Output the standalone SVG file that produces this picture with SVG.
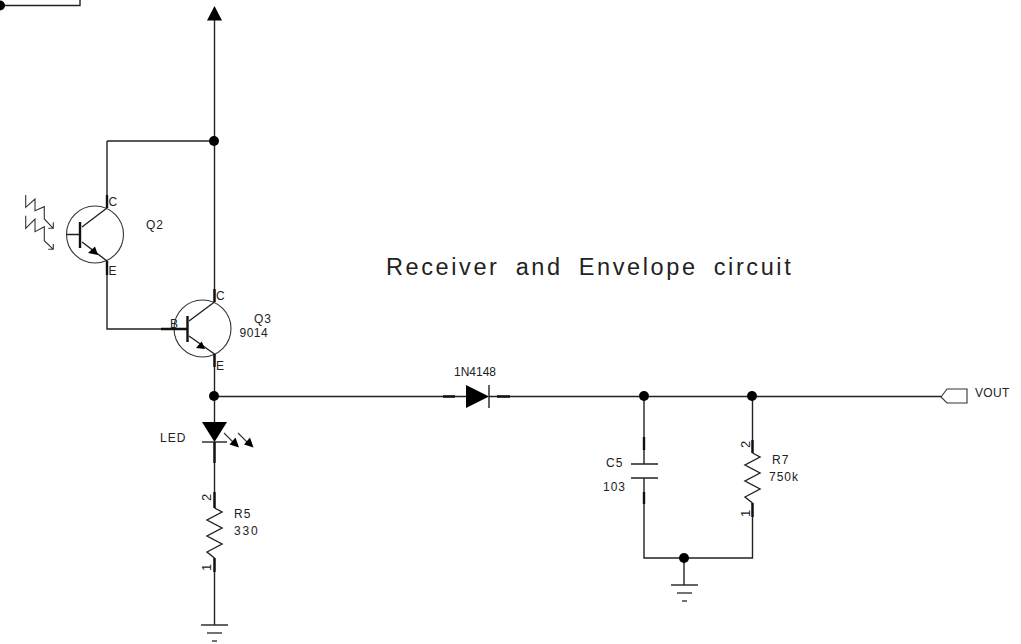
<svg xmlns="http://www.w3.org/2000/svg" width="1021" height="644" viewBox="0 0 1021 644">
<style>
.w{fill:none;stroke:#222;stroke-width:1.4;stroke-linejoin:miter}
.t{fill:none;stroke:#111;stroke-width:2.4}
.g{fill:none;stroke:#444;stroke-width:1.5}
.f{fill:#000;stroke:none}
.s{fill:none;stroke:#333;stroke-width:1.1}
text{font-family:"Liberation Sans",Arial,sans-serif;font-size:12px;fill:#222}
.l{letter-spacing:1px}
.r{font-size:13px}
</style>
<defs>
<circle id="dot" r="5" class="f"/>
<g id="gnd"><path class="w" d="M-13.500 0H13.500"/><path class="g" d="M-7.500 8H7.500M-2.500 16H2.500"/></g>
</defs>
<rect width="1021" height="644" fill="#fff"/>
<g id="connectors">
<path class="w" d="M0 5.500H80V0"/>
<path class="w" d="M214.500 15V302"/>
<path class="w" d="M107 141H214.500"/>
<path class="w" d="M107 141V208"/>
<path class="w" d="M107 261V329H187"/>
<path class="w" d="M214.500 354V422"/>
<path class="w" d="M214.500 396.500H466"/>
<path class="w" d="M489 396.500H941"/>
<path class="w" d="M214.500 442V508"/>
<path class="w" d="M214.500 558V625"/>
<path class="w" d="M644 396V464"/>
<path class="w" d="M644 478V558H752.500V503"/>
<path class="w" d="M752.500 396V453"/>
<path class="w" d="M684 558V585"/>
<use href="#dot" x="0" y="5.500"/>
<use href="#dot" x="214" y="141"/>
<use href="#dot" x="214" y="396"/>
<use href="#dot" x="644" y="396"/>
<use href="#dot" x="752" y="396"/>
<use href="#dot" x="684" y="558"/>
</g>
<g id="vcc-arrow"><path class="f" d="M214.500 6L222 20.500H207Z"/></g>
<g id="Q2">
<circle cx="95" cy="234.500" r="28.500" class="s"/>
<path class="w" d="M67 234.500H80M82 227L107 208M82 242L107 261"/>
<path class="t" d="M80 222V248M107 195V208M107 261V275"/>
<path class="f" d="M98 255L88 253L95 246.500Z"/>
<path class="s" d="M25.700 195V207.300L35 199V210.700L44.300 206.700V219L53.300 228.300M48.300 228.300H53.300V222.300M25.700 215.700V228.300L35 219V231.700L44.300 226.700V240.700L53.300 249.300M48.300 249.300H53.300V244"/>
<text x="108.500" y="206">C</text>
<text x="108.500" y="275">E</text>
<text x="146" y="229" class="l">Q2</text>
</g>
<g id="Q3">
<circle cx="202.500" cy="328.500" r="28.500" class="s"/>
<path class="w" d="M189 321L214.500 302M189 336L214.500 354"/>
<path class="t" d="M187.500 316V342M161 329H187M214.500 289V302M214.500 354V367"/>
<path class="f" d="M205 349L196 348L201.700 341.500Z"/>
<text x="216" y="300">C</text>
<text x="216" y="370">E</text>
<text x="170" y="327.500">B</text>
<text x="254" y="323" class="l">Q3</text>
<text x="239.500" y="337" style="letter-spacing:.5px">9014</text>
</g>
<g id="LED">
<path class="f" d="M202 422H227L214.500 442Z"/>
<path class="w" d="M202 442H227"/>
<path class="t" d="M214.500 442V463"/>
<path class="s" d="M224 433L236 445M238 433L250 445"/>
<path class="f" d="M239 447.500L229.500 444.500L235.500 437.500ZM253.500 447.500L244 444.500L250 437.500Z"/>
<text x="160" y="442" class="l">LED</text>
</g>
<g id="R5">
<path class="w" d="M214.500 508L222 512L207 520L222 528L207 536L222 544L207 552L214.500 558"/>
<path class="t" d="M214.500 492V508M214.500 558V572"/>
<text transform="translate(211 501) rotate(-90)" class="r">2</text>
<text transform="translate(211 571) rotate(-90)" class="r">1</text>
<text x="234" y="518" class="l">R5</text>
<text x="234" y="535" style="letter-spacing:1.8px">330</text>
</g>
<g id="GND1"><use href="#gnd" x="214.500" y="625"/></g>
<g id="D1">
<path class="f" d="M466 385L489 396.500L466 408Z"/>
<path class="w" d="M489 385V408"/>
<path class="t" d="M443 396.500H455M497 396.500H510"/>
<text x="454" y="376">1N4148</text>
</g>
<g id="C5">
<path class="w" d="M631 464H658M631 478H658"/>
<path class="t" d="M644 437V450M644 492V504"/>
<text x="606" y="467" class="l">C5</text>
<text x="603" y="491" class="l">103</text>
</g>
<g id="R7">
<path class="w" d="M752.500 453L760 457L745 465L760 473L745 481L760 489L745 497L752.500 503"/>
<path class="t" d="M752.500 440V453M752.500 503V517"/>
<text transform="translate(750 448) rotate(-90)" class="r">2</text>
<text transform="translate(750 517) rotate(-90)" class="r">1</text>
<text x="772" y="464" class="l">R7</text>
<text x="769" y="481" class="l">750k</text>
</g>
<g id="GND2"><use href="#gnd" x="684.500" y="585"/></g>
<g id="VOUT">
<path class="s" d="M941 397L947 389H967V403H947Z"/>
<text x="975" y="397" style="letter-spacing:.3px">VOUT</text>
</g>
<g id="title"><text x="386" y="275" style="font-size:23.500px;letter-spacing:2.6px;word-spacing:7px">Receiver and Envelope circuit</text></g>
</svg>
